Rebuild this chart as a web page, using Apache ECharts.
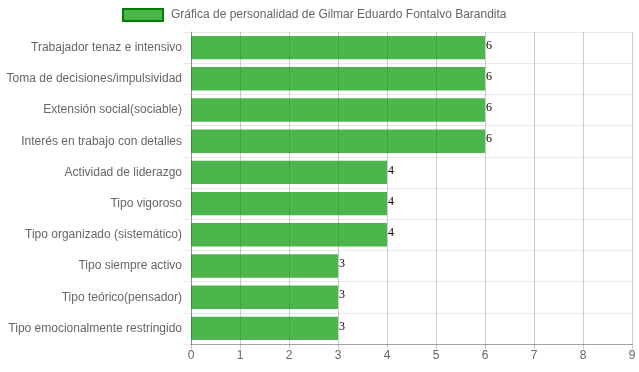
<!DOCTYPE html>
<html><head><meta charset="utf-8">
<script src="https://cdn.jsdelivr.net/npm/echarts@6/dist/echarts.min.js"></script>
<style>html,body{margin:0;padding:0;background:#fff}#c{width:639px;height:372px}</style>
</head><body><div id="c"></div>
<script>
const categories = [
  "Trabajador tenaz e intensivo",
  "Toma de decisiones/impulsividad",
  "Extensión social(sociable)",
  "Interés en trabajo con detalles",
  "Actividad de liderazgo",
  "Tipo vigoroso",
  "Tipo organizado (sistemático)",
  "Tipo siempre activo",
  "Tipo teórico(pensador)",
  "Tipo emocionalmente restringido"
];
const values = [6, 6, 6, 6, 4, 4, 4, 3, 3, 3];
const seriesName = "Gráfica de personalidad de Gilmar Eduardo Fontalvo Barandita";
const xTicks = [0, 9, 1];

const chart = echarts.init(document.getElementById('c'), null, {renderer: 'canvas'});
chart.setOption({
  animation: false,
  textStyle: {fontFamily: 'Liberation Sans, Arial, sans-serif'},
  legend: {
    top: 8, left: 122, padding: 0,
    itemWidth: 40, itemHeight: 12, itemGap: 8,
    textStyle: {color: '#666', fontSize: 12, fontFamily: 'Liberation Sans, Arial, sans-serif', padding: [0, 0, 0, 3]},
    data: [{name: seriesName, icon: 'rect', itemStyle: {color: 'rgba(0,150,0,0.7)', borderColor: '#008000', borderWidth: 2}}]
  },
  grid: {left: 191, right: 7, top: 32, bottom: 28, containLabel: false},
  xAxis: {
    type: 'value', min: xTicks[0], max: xTicks[1], interval: xTicks[2],
    axisLine: {show: true, lineStyle: {color: 'rgba(0,0,0,0.3)'}},
    axisTick: {show: true, length: 5, lineStyle: {color: 'rgba(0,0,0,0.2)'}},
    axisLabel: {color: '#666', fontSize: 12, margin: 6},
    splitLine: {show: true, lineStyle: {color: 'rgba(0,0,0,0.2)'}}
  },
  yAxis: {
    type: 'category', data: categories, inverse: true,
    axisLine: {show: true, lineStyle: {color: 'rgba(0,0,0,0.3)'}},
    axisTick: {show: true, length: 8, lineStyle: {color: 'rgba(0,0,0,0.08)'}},
    axisLabel: {color: '#666', fontSize: 12, margin: 9},
    splitLine: {show: true, lineStyle: {color: 'rgba(0,0,0,0.08)'}}
  },
  series: [{
    name: seriesName, type: 'bar', data: values,
    barCategoryGap: '25%',
    itemStyle: {color: 'rgba(0,150,0,0.7)'},
    label: {show: true, position: 'right', distance: 1, offset: [0, -2], color: '#000', fontSize: 12, fontFamily: 'Liberation Serif, Times New Roman, serif'},
    z: 3
  }]
});
</script></body></html>
